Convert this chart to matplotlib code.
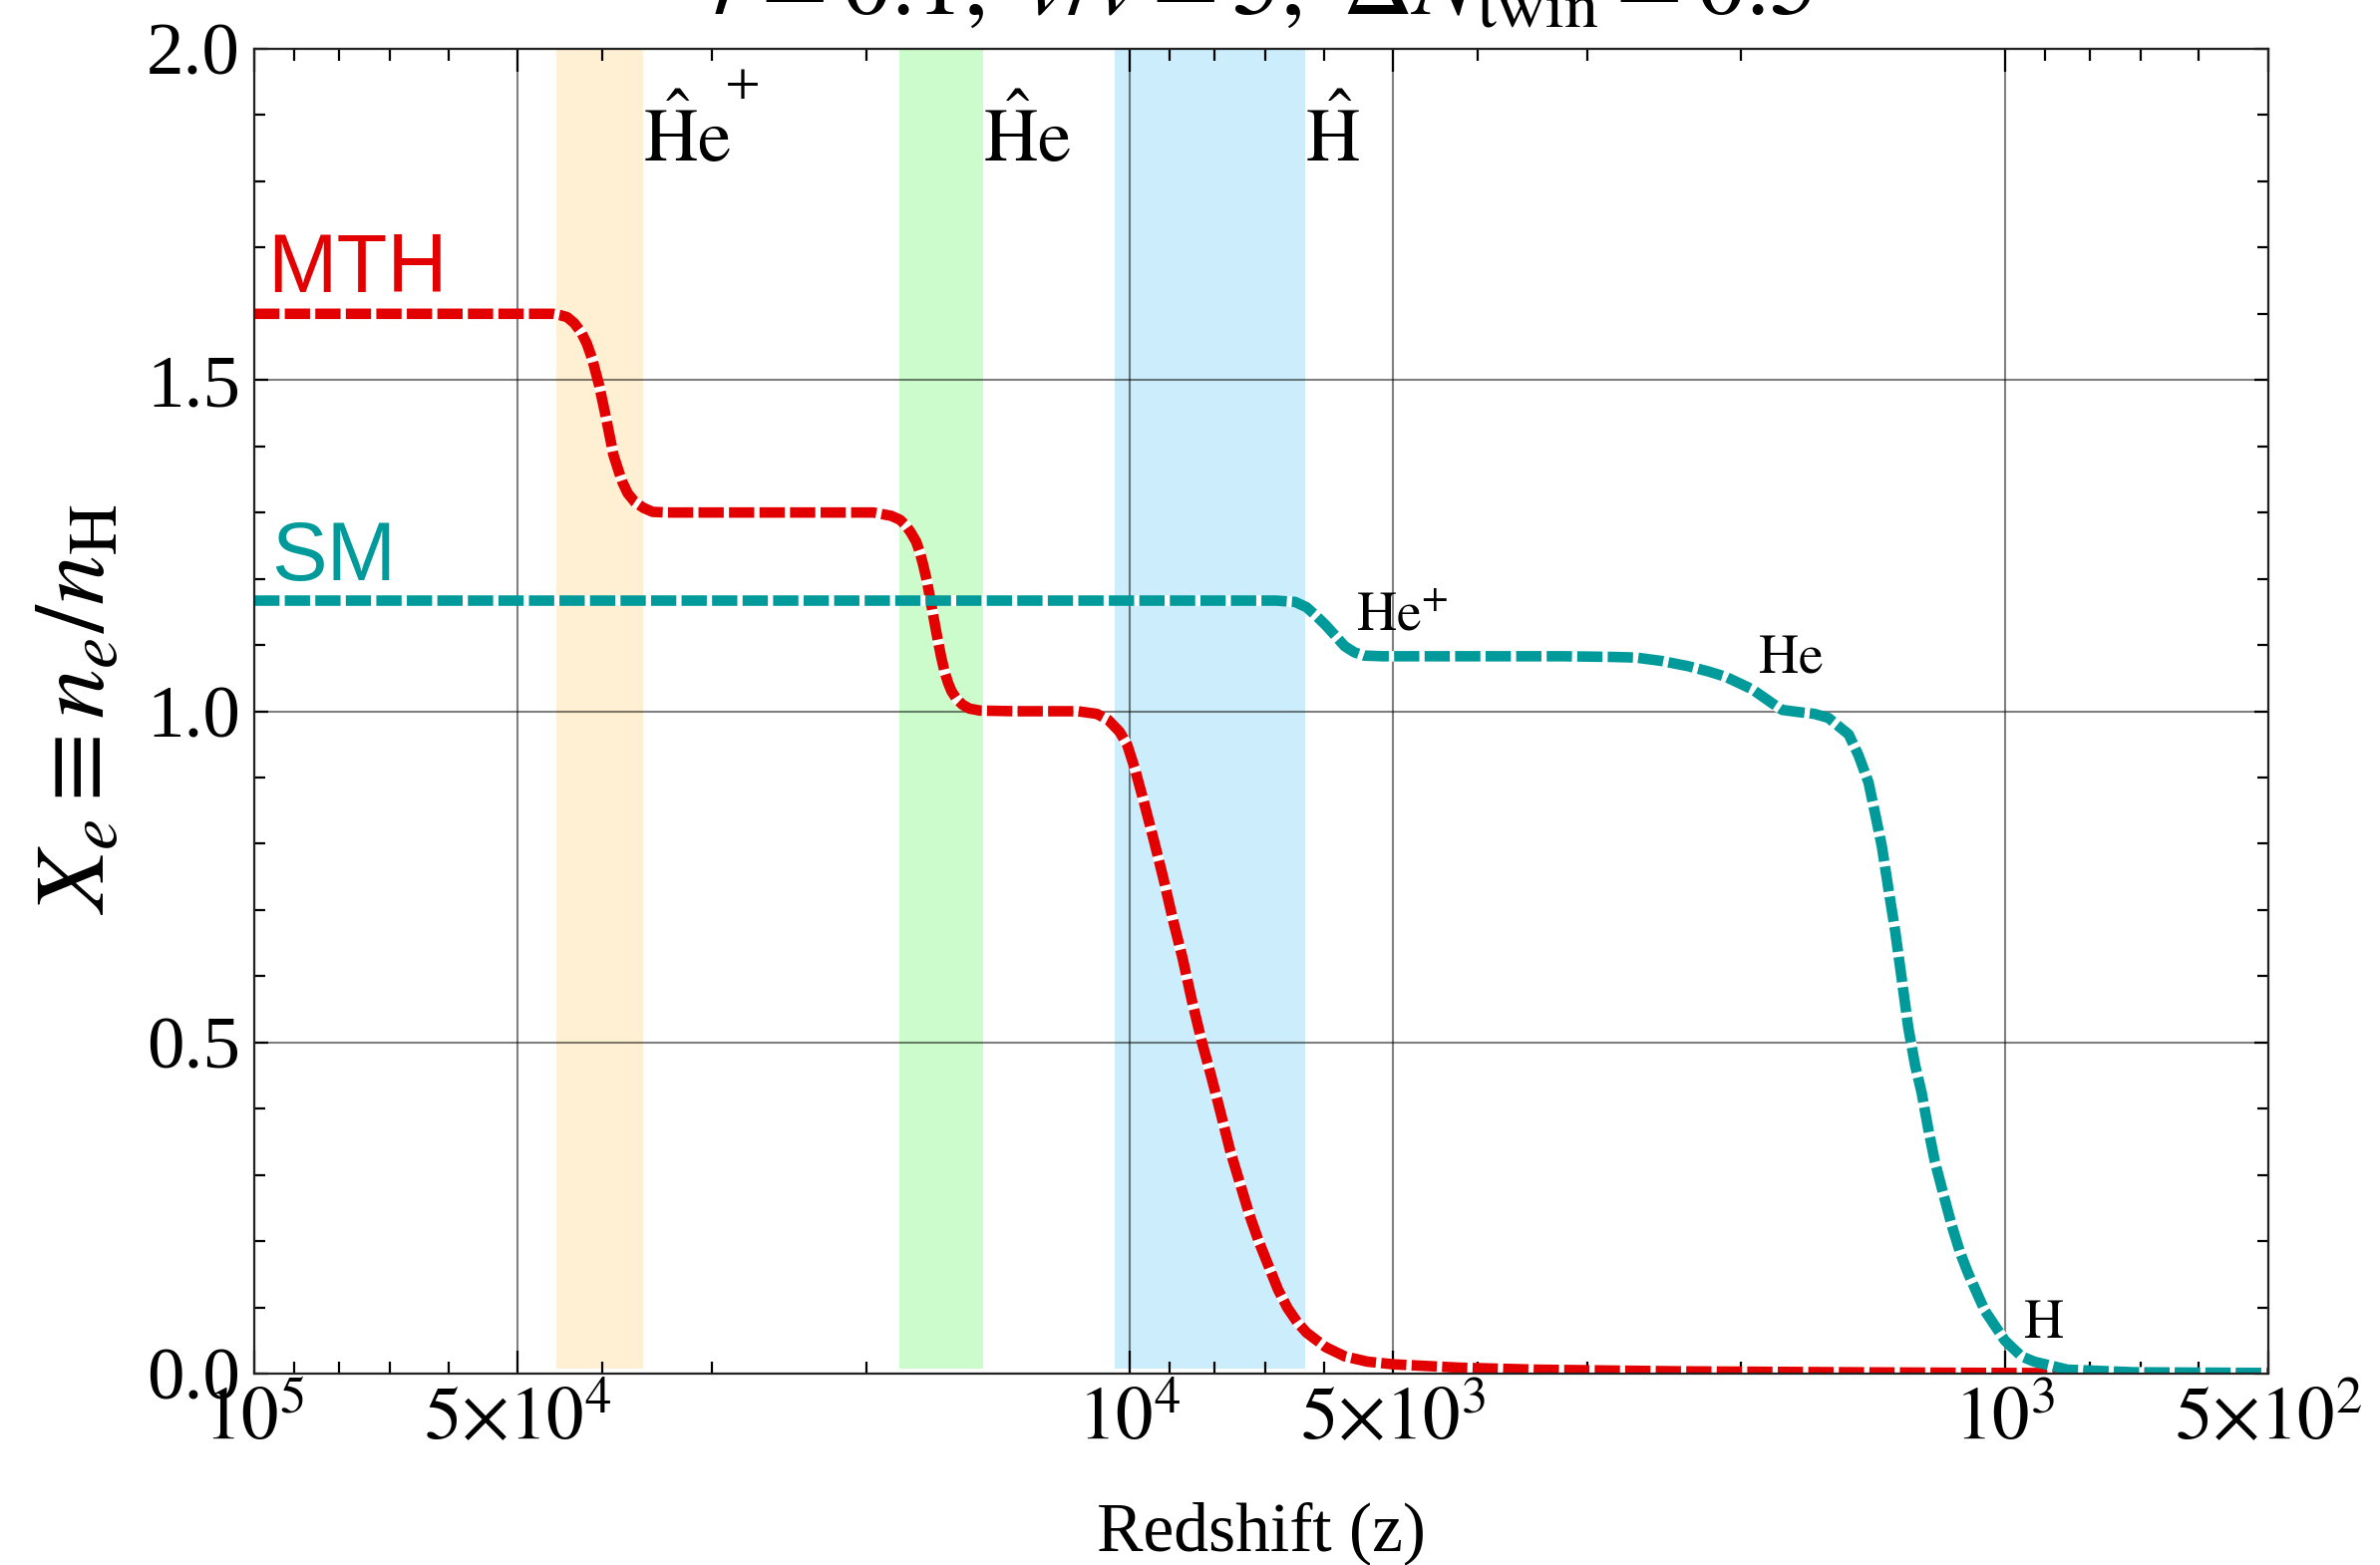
import matplotlib
matplotlib.use("Agg")
import matplotlib.pyplot as plt
from matplotlib.ticker import FixedLocator, FixedFormatter

plt.rcParams["font.family"] = ["Liberation Serif", "DejaVu Serif"]
plt.rcParams["mathtext.fontset"] = "stix"

# ---- data -------------------------------------------------------------
# MTH (twin sector) free-electron fraction vs redshift
mth_z = [1.0e5, 7.0e4, 5.0e4, 4.70e4, 45590, 44750, 43910, 43100, 42310, 41690,
         41110, 40360, 39620, 38870, 38330, 37970, 37440, 36750, 35920, 35070,
         33780, 30000, 25000, 19620, 18720, 18290, 18030, 17780, 17530, 17370,
         17210, 17050, 16900, 16740, 16580, 16420, 16270, 16120, 15970, 15750,
         15520, 15240, 14820, 13500, 12080, 11460, 10900, 10580, 10265, 10060,
         9860, 9616, 9376, 9146, 8913, 8697, 8483, 8272, 8067, 7867,
         7672, 7482, 7296, 7115, 6939, 6767, 6599, 6436, 6279, 5969,
         5676, 5345, 4990, 4202, 3438, 2377, 1500, 1000, 700, 500]
mth_xe = [1.600, 1.600, 1.600, 1.600, 1.600, 1.598, 1.595, 1.586, 1.572, 1.555,
          1.532, 1.492, 1.442, 1.387, 1.362, 1.346, 1.329, 1.316, 1.307, 1.301,
          1.300, 1.300, 1.300, 1.300, 1.295, 1.289, 1.281, 1.270, 1.256, 1.241,
          1.221, 1.198, 1.171, 1.141, 1.111, 1.083, 1.060, 1.043, 1.030, 1.018,
          1.010, 1.004, 1.001, 1.000, 1.000, 1.000, 0.996, 0.987, 0.969, 0.949,
          0.913, 0.860, 0.804, 0.747, 0.683, 0.627, 0.562, 0.502, 0.449, 0.393,
          0.336, 0.288, 0.240, 0.199, 0.163, 0.127, 0.099, 0.078, 0.062, 0.040,
          0.026, 0.018, 0.014, 0.009, 0.006, 0.0035, 0.002, 0.001, 0.0005, 0.0]

# Standard Model free-electron fraction vs redshift
sm_z = [1.0e5, 3.0e4, 1.0e4, 7500, 6802, 6468, 6278, 6121, 5969, 5821,
        5676, 5536, 5398, 5138, 4000, 3200, 2812, 2638, 2470, 2300,
        2180, 2084, 1943, 1844, 1796, 1727, 1650, 1591, 1508, 1469,
        1431, 1406, 1382, 1358, 1334, 1311, 1289, 1266, 1245, 1223,
        1202, 1176, 1150, 1125, 1101, 1054, 1000, 957, 925, 848,
        711, 500]
sm_xe = [1.167, 1.167, 1.167, 1.167, 1.167, 1.165, 1.157, 1.144, 1.130, 1.114,
         1.098, 1.089, 1.084, 1.083, 1.083, 1.083, 1.082, 1.081, 1.076, 1.068,
         1.060, 1.052, 1.033, 1.012, 1.002, 0.999, 0.996, 0.990, 0.965, 0.933,
         0.892, 0.844, 0.796, 0.731, 0.667, 0.594, 0.522, 0.465, 0.425, 0.369,
         0.320, 0.272, 0.224, 0.183, 0.151, 0.095, 0.050, 0.026, 0.018, 0.006,
         0.002, 0.001]

# shaded twin recombination epochs (z_high, z_low)
band_z = [(4.52e4, 3.60e4), (1.83e4, 1.47e4), (1.04e4, 6.30e3)]
band_colors = ["#fff0d3", "#ccfccc", "#ccedfb"]
band_labels = [r"$\hat{\mathrm{H}}\mathrm{e}$", r"$\hat{\mathrm{H}}\mathrm{e}$",
               r"$\hat{\mathrm{H}}$"]
band_charge = ["+", "", ""]

# SM recombination labels
sm_label_text = [r"$\mathrm{He}^{+}$", r"$\mathrm{He}$", r"$\mathrm{H}$"]
sm_label_z = [5513, 1917, 954]
sm_label_y = [1.123, 1.058, 0.054]

x_major = [1e5, 5e4, 1e4, 5e3, 1e3, 5e2]
x_major_labels = [r"$10^{5}$", r"$5{\times}10^{4}$", r"$10^{4}$",
                  r"$5{\times}10^{3}$", r"$10^{3}$", r"$5{\times}10^{2}$"]
x_minor = [9e4, 8e4, 7e4, 6e4, 4e4, 3e4, 2e4, 9e3, 8e3, 7e3, 6e3,
           4e3, 3e3, 2e3, 9e2, 8e2, 7e2, 6e2]
y_major = [0.0, 0.5, 1.0, 1.5, 2.0]
y_major_labels = ["0.0", "0.5", "1.0", "1.5", "2.0"]
y_minor = [0.1, 0.2, 0.3, 0.4, 0.6, 0.7, 0.8, 0.9, 1.1, 1.2, 1.3, 1.4,
           1.6, 1.7, 1.8, 1.9]

RED = "#e30000"
TEAL = "#009a9a"

# ---- figure -----------------------------------------------------------
W, H = 2387, 1570
fig = plt.figure(figsize=(W / 200, H / 200), dpi=200)
ax = fig.add_axes([255 / W, 1 - 1378 / H, (2275 - 255) / W, (1378 - 49) / H])

ax.set_xscale("log")
ax.set_xlim(1e5, 500)
ax.set_ylim(0, 2)

for (zh, zl), c in zip(band_z, band_colors):
    ax.axvspan(zh, zl, ymin=0.004, ymax=1.0, color=c, lw=0, zorder=0.2)

for (zh, zl), lab, q in zip(band_z, band_labels, band_charge):
    ax.text(zl, 1.83, lab, fontsize=27, ha="left", va="baseline", zorder=3)
    if q:
        # raised charge sign after the twin-helium label
        ax.annotate(q, xy=(zl, 1.83), xytext=(29.5, 20), textcoords="offset points",
                    fontsize=23, ha="left", va="baseline", zorder=3)

dash_kw = dict(lw=3.8, dashes=(2.4, 0.5), gapcolor="white",
               dash_capstyle="butt", solid_capstyle="butt")
ax.plot(mth_z, mth_xe, color=RED, zorder=2, **dash_kw)
ax.plot(sm_z, sm_xe, color=TEAL, zorder=2.1, **dash_kw)

ax.text(9.65e4, 1.633, "MTH", color=RED, fontsize=30,
        family=["Liberation Sans", "DejaVu Sans"], ha="left", va="baseline")
ax.text(9.55e4, 1.198, "SM", color=TEAL, fontsize=30,
        family=["Liberation Sans", "DejaVu Sans"], ha="left", va="baseline")

for t, z, y in zip(sm_label_text, sm_label_z, sm_label_y):
    ax.text(z, y, t, fontsize=20, ha="left", va="baseline", zorder=3)

# ticks and grid
ax.xaxis.set_major_locator(FixedLocator(x_major))
ax.xaxis.set_major_formatter(FixedFormatter(x_major_labels))
ax.xaxis.set_minor_locator(FixedLocator(x_minor))
ax.xaxis.set_minor_formatter(FixedFormatter([""] * len(x_minor)))
ax.yaxis.set_major_locator(FixedLocator(y_major))
ax.yaxis.set_major_formatter(FixedFormatter(y_major_labels))
ax.yaxis.set_minor_locator(FixedLocator(y_minor))

ax.tick_params(axis="both", which="both", direction="in", top=True, right=True,
               color="black", width=0.8)
ax.tick_params(axis="x", which="major", length=8.3, labelsize=27, pad=5)
ax.tick_params(axis="x", which="minor", length=4.2)
ax.tick_params(axis="y", which="major", length=5.0, labelsize=27, pad=5)
ax.tick_params(axis="y", which="minor", length=4.0)

ax.set_axisbelow(True)
ax.grid(True, which="major", color="black", alpha=0.5, lw=0.75)

for s in ax.spines.values():
    s.set_linewidth(0.8)
    s.set_color("#222222")

fig.text(0.034, 1 - 711 / H, r"$X_e \equiv n_e/n_{\mathrm{H}}$", rotation=90,
         fontsize=36, ha="center", va="center")
fig.text(0.53, 1 - 1555 / H, "Redshift (z)", fontsize=25, ha="center",
         va="baseline")
fig.text(0.53, 1 - 15 / H,
         r"$r = 0.1,\ \hat{v}/v = 5,\ \Delta N_{\mathrm{twin}} = 0.5$",
         fontsize=35, ha="center", va="baseline")

fig.savefig("out.png", dpi=200)
